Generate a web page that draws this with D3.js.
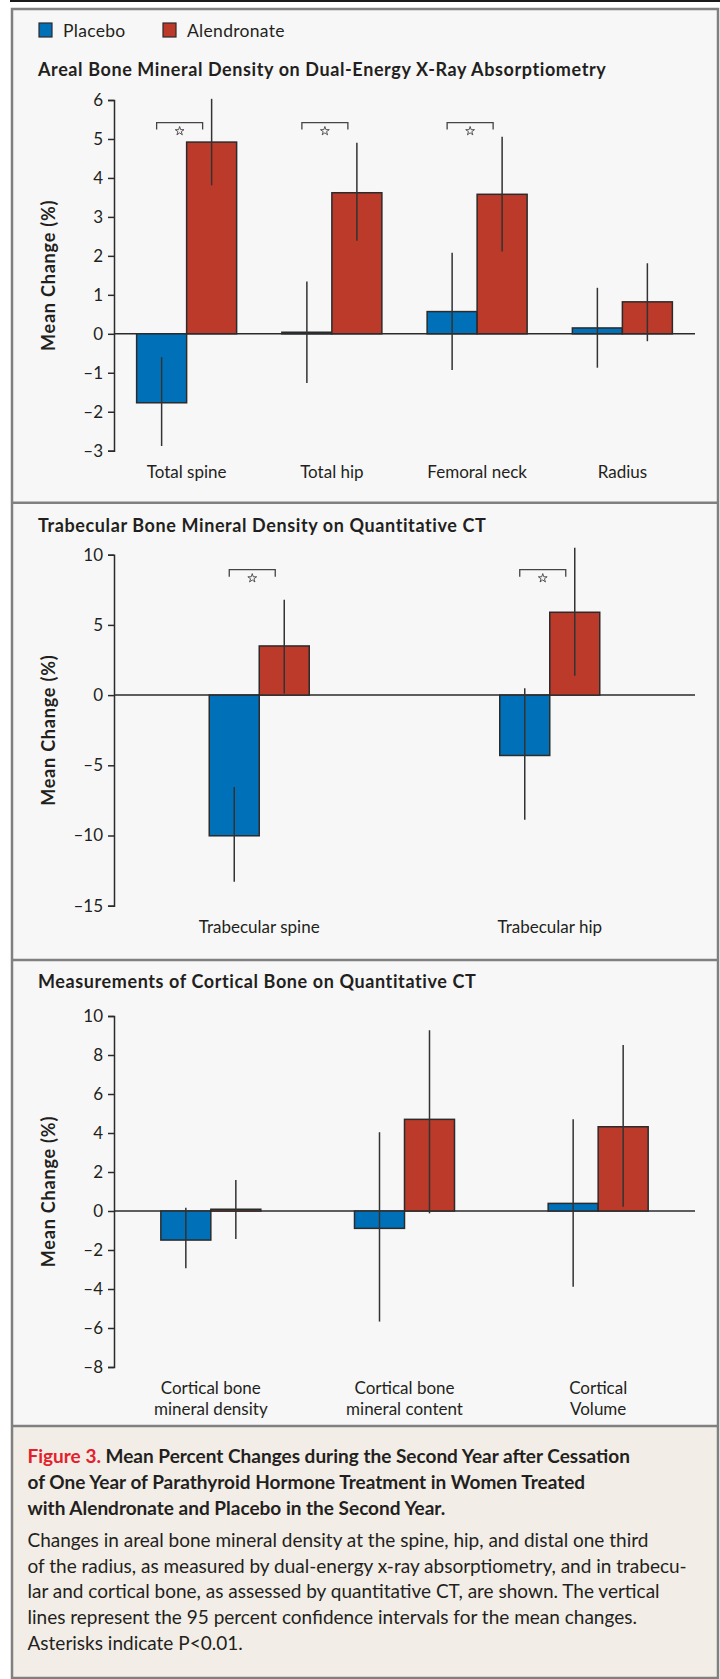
<!DOCTYPE html>
<html>
<head>
<meta charset="utf-8">
<script src="https://cdn.jsdelivr.net/npm/d3@7"></script>
<style>
  body { margin: 0; background: #fff; }
  text { font-family: Lato, "Open Sans", sans-serif; fill: #231f20; }
</style>
</head>
<body>
<svg id="fig"></svg>
<script>
// ---- data ----
const legendLabels = ["Placebo", "Alendronate"];

// Areal BMD on DXA
const arealCategories = [["Total spine"], ["Total hip"], ["Femoral neck"], ["Radius"]];
const arealPlacebo   = [-1.77, 0.04, 0.57, 0.15];
const arealPlaceboHi = [-0.60, 1.34, 2.08, 1.18];
const arealPlaceboLo = [-2.88, -1.26, -0.93, -0.87];
const arealAlend     = [4.92, 3.62, 3.58, 0.82];
const arealAlendHi   = [6.03, 4.90, 5.06, 1.81];
const arealAlendLo   = [3.81, 2.39, 2.11, -0.19];
const arealSig       = [true, true, true, false];
const arealTicks     = [-3, -2, -1, 0, 1, 2, 3, 4, 5, 6];

// Trabecular BMD on QCT
const trabCategories = [["Trabecular spine"], ["Trabecular hip"]];
const trabPlacebo    = [-10.02, -4.30];
const trabPlaceboHi  = [-6.55, 0.48];
const trabPlaceboLo  = [-13.30, -8.88];
const trabAlend      = [3.50, 5.90];
const trabAlendHi    = [6.80, 10.50];
const trabAlendLo    = [0.12, 1.37];
const trabSig        = [true, true];
const trabTicks      = [-15, -10, -5, 0, 5, 10];

// Cortical bone on QCT
const cortCategories = [["Cortical bone", "mineral density"], ["Cortical bone", "mineral content"], ["Cortical", "Volume"]];
const cortPlacebo    = [-1.49, -0.89, 0.39];
const cortPlaceboHi  = [0.17, 4.04, 4.70];
const cortPlaceboLo  = [-2.94, -5.67, -3.88];
const cortAlend      = [0.09, 4.70, 4.32];
const cortAlendHi    = [1.59, 9.27, 8.51];
const cortAlendLo    = [-1.44, -0.12, 0.22];
const cortSig        = [false, false, false];
const cortTicks      = [-8, -6, -4, -2, 0, 2, 4, 6, 8, 10];

const captionHead = [
  "Mean Percent Changes during the Second Year after Cessation",
  "of One Year of Parathyroid Hormone Treatment in Women Treated",
  "with Alendronate and Placebo in the Second Year."
];
const captionBody = [
  "Changes in areal bone mineral density at the spine, hip, and distal one third",
  "of the radius, as measured by dual-energy x-ray absorptiometry, and in trabecu-",
  "lar and cortical bone, as assessed by quantitative CT, are shown. The vertical",
  "lines represent the 95 percent confidence intervals for the mean changes.",
  "Asterisks indicate P<0.01."
];

// ---- layout ----
const W = 720, H = 1679;
const blue = "#0071b9", red = "#bc3a29", ink = "#2b2b2b";
const axisX = 114, plotRight = 695, barW = 50;

const svg = d3.select("#fig").attr("width", W).attr("height", H);

// frame
svg.append("rect").attr("x", 10).attr("y", 0).attr("width", W - 10).attr("height", 2).attr("fill", "#1a1a1a");
svg.append("rect").attr("x", 12).attr("y", 9).attr("width", 706).attr("height", 1417).attr("fill", "#f7f7f7");
svg.append("rect").attr("x", 12).attr("y", 1426).attr("width", 706).attr("height", 252).attr("fill", "#f2ede6");
[502.7, 960, 1426].forEach(yy => {
  svg.append("line").attr("x1", 12).attr("x2", 718).attr("y1", yy).attr("y2", yy)
    .attr("stroke", "#808080").attr("stroke-width", 2.5);
});
svg.append("rect").attr("x", 12).attr("y", 9).attr("width", 706).attr("height", 1669)
  .attr("fill", "none").attr("stroke", "#808080").attr("stroke-width", 2.5);

// legend
const legend = svg.append("g");
[blue, red].forEach((c, i) => {
  const lx = i === 0 ? 39 : 163;
  legend.append("rect").attr("x", lx).attr("y", 23).attr("width", 13).attr("height", 14)
    .attr("fill", c).attr("stroke", ink).attr("stroke-width", 1.2);
  legend.append("text").attr("x", lx + 24).attr("y", 36.5).attr("font-size", 17.5)
    .attr("letter-spacing", 0.3).text(legendLabels[i]);
});

function minus(d) { return d < 0 ? "\u2013" + Math.abs(d) : String(d); }

const star = d3.symbol(d3.symbolStar, 24);

function drawPanel(cfg) {
  const g = svg.append("g");
  g.append("text").attr("x", 38).attr("y", cfg.titleY)
    .attr("font-size", 18).attr("font-weight", 700).attr("letter-spacing", 0.6).text(cfg.title);

  const y = d3.scaleLinear()
    .domain(d3.extent(cfg.ticks))
    .range([cfg.yBottom, cfg.yTop]);
  const x = d3.scaleBand()
    .domain(d3.range(cfg.categories.length))
    .range([axisX, plotRight]);
  const cx = i => x(i) + x.bandwidth() / 2;

  // y axis
  const ax = g.append("g").attr("transform", `translate(${axisX},0)`)
    .call(d3.axisLeft(y).tickValues(cfg.ticks).tickSize(6).tickPadding(5).tickFormat(minus));
  ax.selectAll("path, line").attr("stroke", ink).attr("stroke-width", 1.5);
  ax.selectAll("text").attr("font-size", 17).attr("font-family", "Lato, sans-serif").attr("fill", "#231f20");

  g.append("text")
    .attr("transform", `translate(55,${(cfg.yTop + cfg.yBottom) / 2}) rotate(-90)`)
    .attr("text-anchor", "middle").attr("font-size", 18).attr("font-weight", 700)
    .attr("letter-spacing", 0.8)
    .text("Mean Change (%)");

  // zero line
  g.append("line").attr("x1", axisX).attr("x2", plotRight)
    .attr("y1", y(0)).attr("y2", y(0)).attr("stroke", ink).attr("stroke-width", 1.5);

  const series = [
    { vals: cfg.p, lo: cfg.pLo, hi: cfg.pHi, color: blue, dx: -barW },
    { vals: cfg.a, lo: cfg.aLo, hi: cfg.aHi, color: red, dx: 0 }
  ];

  series.forEach(s => {
    g.selectAll(null).data(s.vals).enter().append("rect")
      .attr("x", (d, i) => cx(i) + s.dx)
      .attr("width", barW)
      .attr("y", d => Math.min(y(d), y(0)))
      .attr("height", d => Math.abs(y(d) - y(0)))
      .attr("fill", s.color)
      .attr("stroke", ink).attr("stroke-width", 1.5);
  });
  series.forEach(s => {
    g.selectAll(null).data(s.vals).enter().append("line")
      .attr("x1", (d, i) => cx(i) + s.dx + barW / 2)
      .attr("x2", (d, i) => cx(i) + s.dx + barW / 2)
      .attr("y1", (d, i) => y(s.hi[i]))
      .attr("y2", (d, i) => y(s.lo[i]))
      .attr("stroke", "#333").attr("stroke-width", 1.5);
  });

  // significance brackets
  cfg.sig.forEach((on, i) => {
    if (!on) return;
    const bx = cx(i) - 7, by = y(cfg.sigLevel);
    g.append("path")
      .attr("d", `M${bx - 23},${by + 7}V${by}H${bx + 23}V${by + 7}`)
      .attr("fill", "none").attr("stroke", "#444").attr("stroke-width", 1.3);
    g.append("path").attr("d", star)
      .attr("transform", `translate(${bx},${by + 8.5})`)
      .attr("fill", "none").attr("stroke", "#444").attr("stroke-width", 0.9);
  });

  // category labels
  cfg.categories.forEach((lines, i) => {
    const t = g.append("text").attr("text-anchor", "middle").attr("font-size", 17)
      .attr("x", cx(i)).attr("y", cfg.yBottom + 27);
    lines.forEach((ln, k) => {
      t.append("tspan").attr("x", cx(i)).attr("dy", k === 0 ? 0 : 20.5).text(ln);
    });
  });
}

drawPanel({
  title: "Areal Bone Mineral Density on Dual-Energy X-Ray Absorptiometry",
  titleY: 76, yTop: 100, yBottom: 450.7, ticks: arealTicks,
  categories: arealCategories,
  p: arealPlacebo, pLo: arealPlaceboLo, pHi: arealPlaceboHi,
  a: arealAlend, aLo: arealAlendLo, aHi: arealAlendHi,
  sig: arealSig, sigLevel: 5.42
});
drawPanel({
  title: "Trabecular Bone Mineral Density on Quantitative CT",
  titleY: 531.7, yTop: 554.7, yBottom: 905.7, ticks: trabTicks,
  categories: trabCategories,
  p: trabPlacebo, pLo: trabPlaceboLo, pHi: trabPlaceboHi,
  a: trabAlend, aLo: trabAlendLo, aHi: trabAlendHi,
  sig: trabSig, sigLevel: 8.93
});
drawPanel({
  title: "Measurements of Cortical Bone on Quantitative CT",
  titleY: 988.3, yTop: 1016, yBottom: 1367, ticks: cortTicks,
  categories: cortCategories,
  p: cortPlacebo, pLo: cortPlaceboLo, pHi: cortPlaceboHi,
  a: cortAlend, aLo: cortAlendLo, aHi: cortAlendHi,
  sig: cortSig, sigLevel: 0
});

// caption
const cap = svg.append("g");
captionHead.forEach((ln, i) => {
  const t = cap.append("text").attr("x", 27.5).attr("y", 1463.3 + i * 25.9)
    .attr("font-size", 19).attr("font-weight", 700);
  if (i === 0) t.append("tspan").style("fill", "#e4202c").text("Figure 3. ");
  t.append("tspan").text(ln);
});
captionBody.forEach((ln, i) => {
  cap.append("text").attr("x", 27.5).attr("y", 1546.7 + i * 25.8)
    .attr("font-size", 19).text(ln);
});
</script>
</body>
</html>
